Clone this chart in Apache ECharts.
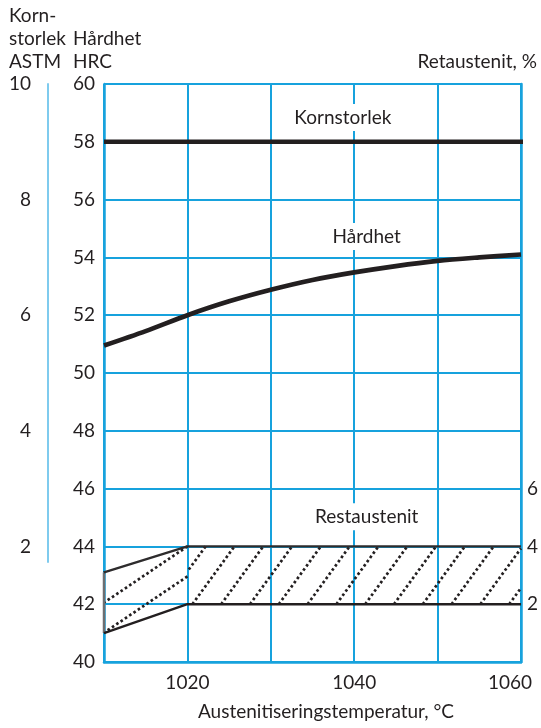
<!DOCTYPE html>
<html>
<head>
<meta charset="utf-8">
<script src="https://cdn.jsdelivr.net/npm/echarts@6/dist/echarts.min.js"></script>
<style>
  html, body { margin: 0; padding: 0; background: #fff; }
  #chart { width: 541px; height: 728px; }
</style>
</head>
<body>
<div id="chart"></div>
<script>
// Austenitising temperature, °C
const temps = [1010, 1015, 1020, 1025, 1030, 1035, 1040, 1045, 1050, 1055, 1060];
// Hardness, HRC
const hardness = [50.95, 51.45, 52.0, 52.48, 52.88, 53.22, 53.48, 53.7, 53.88, 54.0, 54.1];
// Grain size, ASTM
const grainTemps = [1010, 1060];
const grainSize = [9, 9];
// Retained austenite band, %
const bandTemps = [1010, 1020, 1060];
const bandLow = [1, 2, 2];
const bandHigh = [3.1, 4, 4];
// Tick labels
const xLabels = [1020, 1040, 1060];
const astmLabels = [2, 4, 6, 8, 10];
const austLabels = [2, 4, 6];

const BLUE = '#17a2dd';
const INK = '#231f20';
const FONT = 'Lato';
const FS = 19;

// layout of the plot area
const W = 541, H = 728;
const G = { left: 104, right: 18, top: 84, bottom: 66 };
const astmBottom = 166;                       // the ASTM scale stops a little under "2"
const pxPerHrc = (H - G.top - G.bottom) / 20;  // 40..60 HRC
const pxPerAstm = pxPerHrc * 2;               // 1 ASTM step = 2 HRC
const astmMin = 10 - (H - G.top - astmBottom) / pxPerAstm;

// hatch settings for each band segment: angle (deg), perpendicular gap (px), anchor point
const hatch = [
  { angle: 34, gap: 24.9, anchor: [1020, 4] },
  { angle: 54, gap: 23.3, anchor: [1020.6, 2] }
];

function clipLine(poly, n, c) {
  const pts = [];
  for (let i = 0; i < poly.length; i++) {
    const a = poly[i], b = poly[(i + 1) % poly.length];
    const fa = a[0] * n[0] + a[1] * n[1] - c;
    const fb = b[0] * n[0] + b[1] * n[1] - c;
    if ((fa <= 0 && fb > 0) || (fa > 0 && fb <= 0)) {
      const t = fa / (fa - fb);
      pts.push([a[0] + (b[0] - a[0]) * t, a[1] + (b[1] - a[1]) * t]);
    }
  }
  return pts.length >= 2 ? pts : null;
}

function renderHatch(params, api) {
  const t0 = api.value(0), t1 = api.value(1);
  const l0 = api.value(2), l1 = api.value(3), h0 = api.value(4), h1 = api.value(5);
  const poly = [api.coord([t0, l0]), api.coord([t1, l1]), api.coord([t1, h1]), api.coord([t0, h0])];
  const hs = hatch[params.dataIndex];
  const th = hs.angle * Math.PI / 180;
  const n = [Math.sin(th), Math.cos(th)];
  const proj = p => p[0] * n[0] + p[1] * n[1];
  const cs = poly.map(proj);
  const cmin = Math.min.apply(null, cs), cmax = Math.max.apply(null, cs);
  const ca = proj(api.coord(hs.anchor));
  const children = [];
  for (let k = Math.ceil((cmin - ca) / hs.gap); k <= Math.floor((cmax - ca) / hs.gap); k++) {
    const seg = clipLine(poly, n, ca + k * hs.gap);
    if (!seg) continue;
    children.push({
      type: 'line',
      shape: { x1: seg[0][0], y1: seg[0][1], x2: seg[1][0], y2: seg[1][1] },
      style: { stroke: INK, lineWidth: 2.7, lineDash: [2.6, 2.6], lineCap: 'butt' }
    });
  }
  if (params.dataIndex === 0) {
    children.push({
      type: 'line',
      shape: { x1: poly[0][0], y1: poly[0][1], x2: poly[3][0], y2: poly[3][1] },
      style: { stroke: '#6d6e71', lineWidth: 2.5 }
    });
  }
  return { type: 'group', children: children };
}

const textBase = { color: INK, fontFamily: FONT, fontSize: FS };

function seriesLabel(name, coord) {
  return {
    symbol: 'rect', symbolSize: 0, silent: true,
    data: [{ name: name, coord: coord }],
    label: Object.assign({
      show: true, position: 'inside', formatter: '{b}',
      backgroundColor: '#fff', padding: [4, 6]
    }, textBase)
  };
}

const chart = echarts.init(document.getElementById('chart'), null, { renderer: 'canvas' });

chart.setOption({
  animation: false,
  backgroundColor: '#fff',
  grid: [
    { left: G.left, right: G.right, top: G.top, bottom: G.bottom },
    { left: G.left, right: G.right, top: G.top, bottom: astmBottom }
  ],
  xAxis: [
    {
      gridIndex: 0, type: 'value', min: 1010, max: 1060, interval: 10,
      axisLine: { show: true, lineStyle: { color: BLUE, width: 2.5 } },
      axisTick: { show: false },
      splitLine: { show: true, lineStyle: { color: BLUE, width: 2 } },
      axisLabel: Object.assign({
        customValues: xLabels, margin: 11,
        formatter: v => (v === 1060 ? '{e|' + v + '}' : String(v)),
        rich: { e: Object.assign({ padding: [0, 22, 0, 0] }, textBase) }
      }, textBase),
      name: 'Austenitiseringstemperatur, °C',
      nameLocation: 'middle', nameGap: 40,
      nameTextStyle: Object.assign({ padding: [0, 0, 0, 27] }, textBase)
    },
    { gridIndex: 1, type: 'value', min: 1010, max: 1060, show: false }
  ],
  yAxis: [
    {
      gridIndex: 0, type: 'value', position: 'left', min: 40, max: 60, interval: 2,
      axisLine: { show: true, lineStyle: { color: BLUE, width: 2.5 } },
      axisTick: { show: false },
      splitLine: { show: true, lineStyle: { color: BLUE, width: 2 } },
      axisLabel: Object.assign({ margin: 9, padding: [14, 0, 0, 0] }, textBase)
    },
    {
      gridIndex: 0, type: 'value', position: 'right', min: 0, max: 20, interval: 2,
      axisLine: { show: true, lineStyle: { color: BLUE, width: 2.5 } },
      axisTick: { show: false },
      splitLine: { show: false },
      axisLabel: Object.assign({ customValues: austLabels, margin: 6, padding: [8, 0, 0, 0] }, textBase)
    },
    {
      gridIndex: 1, type: 'value', position: 'left', offset: 56, min: astmMin, max: 10,
      axisLine: { show: true, lineStyle: { color: '#7fcbee', width: 2 } },
      axisTick: { show: false },
      splitLine: { show: false },
      axisLabel: Object.assign({ customValues: astmLabels, margin: 17, padding: [14, 0, 0, 0] }, textBase)
    }
  ],
  graphic: [
    { type: 'text', left: 9, top: 4,
      style: { text: 'Korn-\nstorlek\nASTM', font: FS + 'px ' + FONT, fill: INK, lineHeight: 23 } },
    { type: 'text', left: 73, top: 27,
      style: { text: 'Hårdhet\nHRC', font: FS + 'px ' + FONT, fill: INK, lineHeight: 23 } },
    { type: 'text', right: 4, top: 50,
      style: { text: 'Retaustenit, %', font: FS + 'px ' + FONT, fill: INK, lineHeight: 23 } }
  ],
  series: [
    {
      name: 'Kornstorlek', type: 'line', xAxisIndex: 1, yAxisIndex: 2,
      data: grainTemps.map((t, i) => [t, grainSize[i]]),
      symbol: 'none', lineStyle: { color: INK, width: 4.5 },
      markPoint: seriesLabel('Kornstorlek', [1038.5, 9.42])
    },
    {
      name: 'Hårdhet', type: 'line', xAxisIndex: 0, yAxisIndex: 0,
      data: temps.map((t, i) => [t, hardness[i]]),
      smooth: 0.3, symbol: 'none',
      lineStyle: { color: INK, width: 4.7, cap: 'butt' },
      markPoint: seriesLabel('Hårdhet', [1041.5, 54.72])
    },
    {
      name: 'Restaustenit min', type: 'line', xAxisIndex: 0, yAxisIndex: 1,
      data: bandTemps.map((t, i) => [t, bandLow[i]]),
      symbol: 'none', lineStyle: { color: INK, width: 2.4 },
      markPoint: seriesLabel('Restaustenit', [1041.5, 5.03])
    },
    {
      name: 'Restaustenit max', type: 'line', xAxisIndex: 0, yAxisIndex: 1,
      data: bandTemps.map((t, i) => [t, bandHigh[i]]),
      symbol: 'none', lineStyle: { color: '#2e2c2d', width: 2.4 }
    },
    {
      name: 'Restaustenit', type: 'custom', xAxisIndex: 0, yAxisIndex: 1,
      renderItem: renderHatch,
      encode: { x: [0, 1], y: [2, 3, 4, 5] },
      data: bandTemps.slice(0, -1).map((t, i) =>
        [t, bandTemps[i + 1], bandLow[i], bandLow[i + 1], bandHigh[i], bandHigh[i + 1]]),
      silent: true
    }
  ]
});
</script>
</body>
</html>
